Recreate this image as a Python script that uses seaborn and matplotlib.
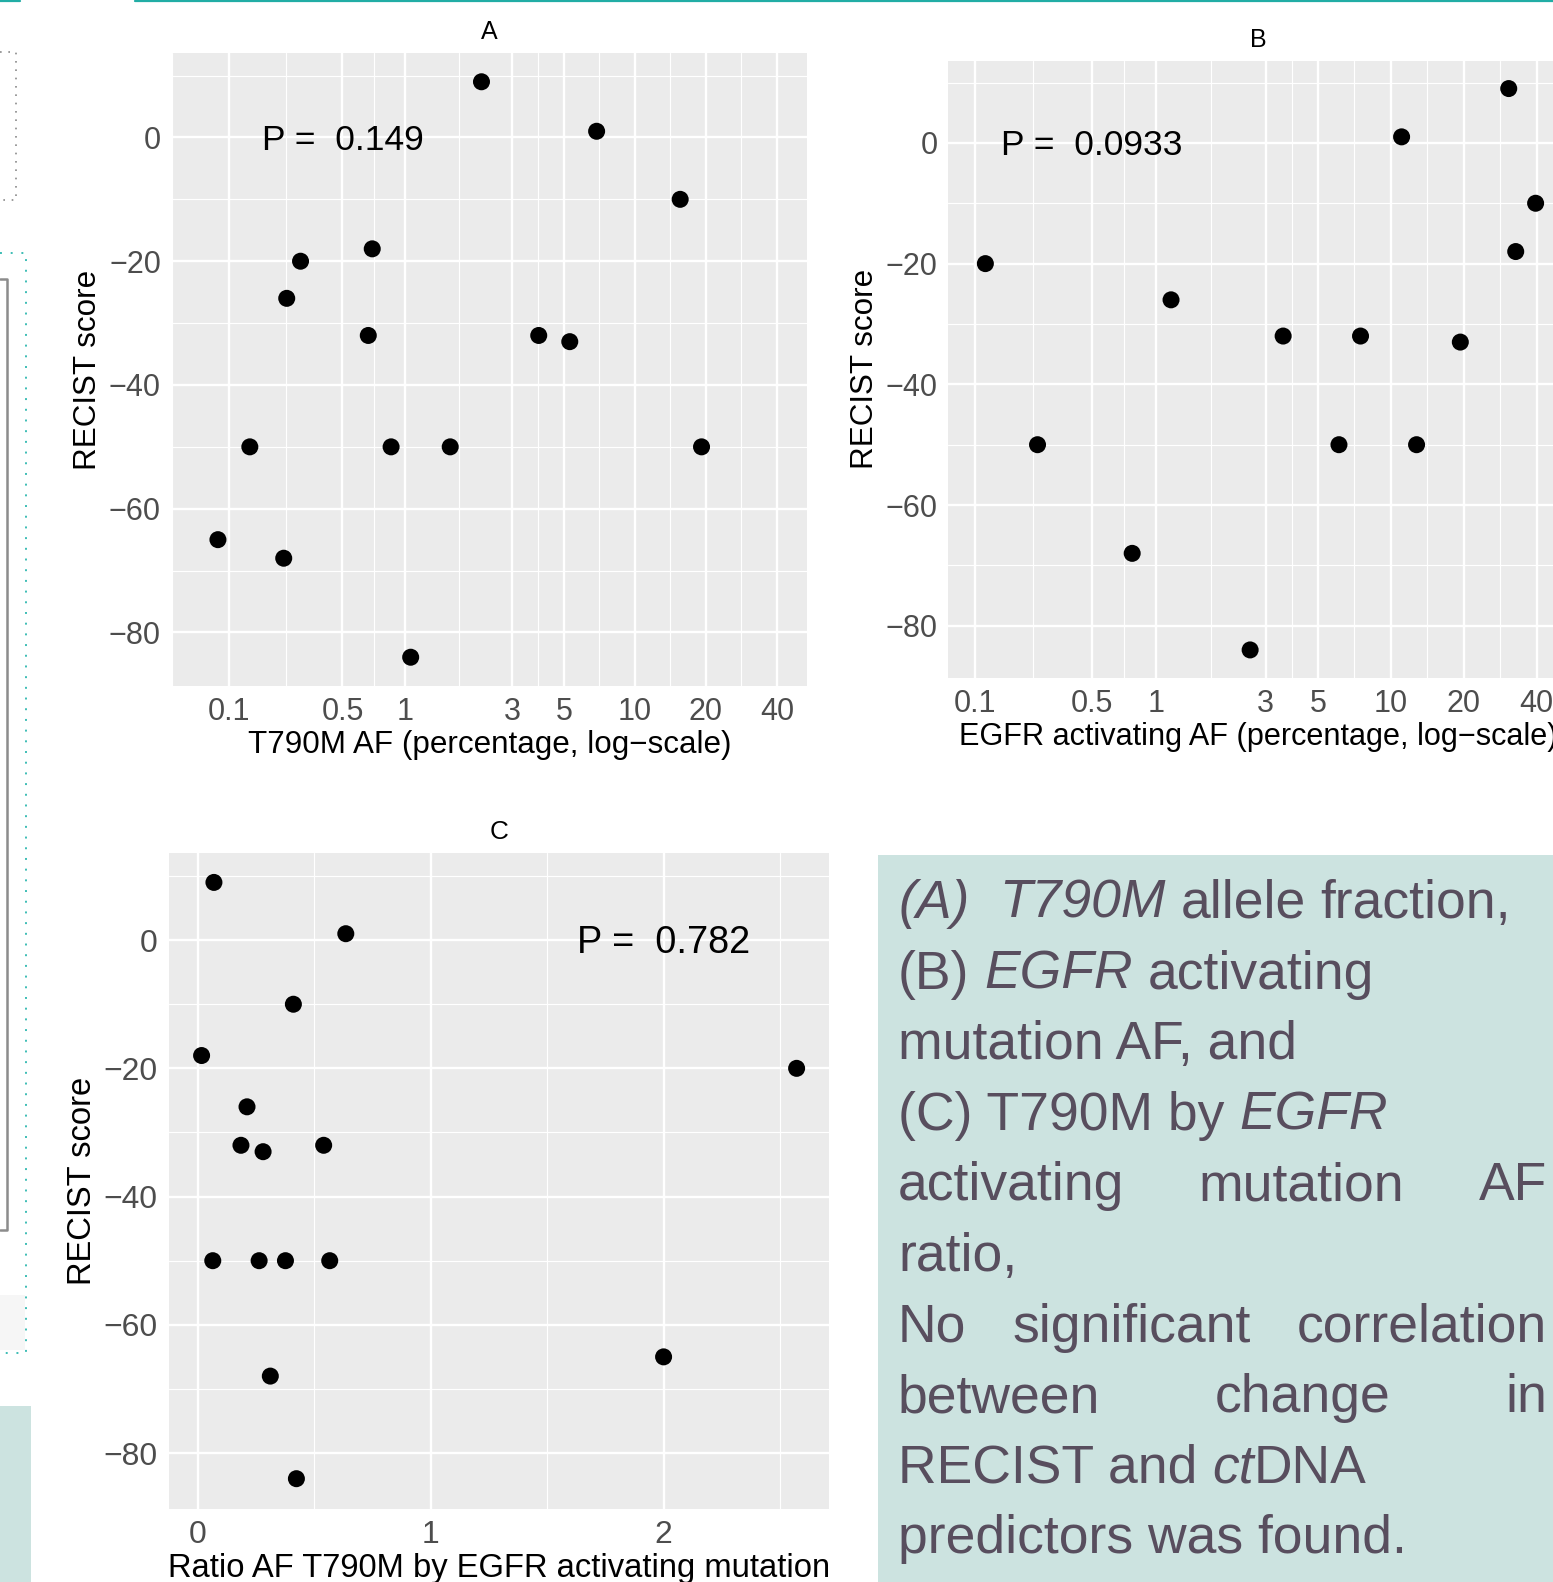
import numpy as np
import seaborn as sns
import matplotlib.pyplot as plt
from matplotlib import font_manager
from matplotlib.patches import Rectangle
from matplotlib.lines import Line2D
from matplotlib.ticker import FixedLocator, FixedFormatter

# valores
a_af = [0.08, 0.145, 0.24, 0.25, 0.30, 0.67, 0.70, 0.86, 1.06, 1.6, 2.2, 3.9, 5.3, 6.9, 15.6, 19.2]
a_recist = [-65, -50, -68, -26, -20, -32, -18, -50, -84, -50, 9, -32, -33, 1, -10, -50]

b_af = [0.12, 0.26, 0.78, 1.17, 2.58, 3.56, 6.1, 7.5, 11.1, 12.8, 19.4, 30.7, 32.8, 39.6]
b_recist = [-20, -50, -68, -26, -84, -32, -50, -32, 1, -50, -33, 9, -18, -10]

c_ratio = [0.07, 0.636, 0.411, 0.017, 2.571, 0.212, 0.186, 0.281, 0.541, 0.065, 0.264, 0.377, 0.567, 2.0, 0.312, 0.424]
c_recist = [9, 1, -10, -18, -20, -26, -32, -33, -32, -50, -50, -50, -50, -65, -68, -84]

log_breaks = [0.1, 0.5, 1, 3, 5, 10, 20, 40]
log_labels = ['0.1', '0.5', '1', '3', '5', '10', '20', '40']
ratio_breaks = [0, 1, 2]
y_breaks = [0, -20, -40, -60, -80]
p_values = ['0.149', '0.0933', '0.782']

W, H = 1553, 1582
TEAL_BG = '#CCE3E0'
TXT = '#584E5E'

sns.set_style('darkgrid', rc={'axes.facecolor': '#EBEBEB', 'grid.color': 'white'})
plt.rcParams['font.family'] = ['Liberation Sans', 'DejaVu Sans']

names = {f.name for f in font_manager.fontManager.ttflist}
narrow = 'Liberation Sans Narrow' if 'Liberation Sans Narrow' in names else 'Liberation Sans'

fig = plt.figure(figsize=(W / 100, H / 100), dpi=100)


def fwd(x):
    return np.log10(np.asarray(x, dtype=float) + 0.1)


def inv(t):
    return 10 ** np.asarray(t, dtype=float) - 0.1


def rect(l, t, r, b):
    return [l / W, 1 - b / H, (r - l) / W, (b - t) / H]


def panel(box, x, y, title, xlabel, pval, px, xlim, log, k=1.0, pk=1.0, xk=1.0):
    ax = fig.add_axes(rect(*box))
    sns.scatterplot(x=x, y=y, ax=ax, s=150, color='black', edgecolor='none', linewidth=0, zorder=3)
    if log:
        ax.set_xscale('function', functions=(fwd, inv))
        ax.xaxis.set_major_locator(FixedLocator(log_breaks))
        ax.xaxis.set_major_formatter(FixedFormatter(log_labels))
        t = fwd(log_breaks)
        step = np.diff(t)
        ext = np.concatenate([[t[0] - step[0]], t, [t[-1] + step[-1]]])
        minor = inv((ext[:-1] + ext[1:]) / 2)
    else:
        ax.xaxis.set_major_locator(FixedLocator(ratio_breaks))
        minor = [-0.5, 0.5, 1.5, 2.5, 3.5]
    ax.set_xlim(*xlim)
    ax.set_ylim(-88.65, 13.65)
    minor = [m for m in minor if xlim[0] < m < xlim[1]]
    ax.xaxis.set_minor_locator(FixedLocator(minor))
    ax.yaxis.set_major_locator(FixedLocator(y_breaks))
    ax.yaxis.set_minor_locator(FixedLocator([10, -10, -30, -50, -70]))
    ax.grid(which='major', color='white', lw=1.7)
    ax.grid(which='minor', color='white', lw=0.85)
    for s in ax.spines.values():
        s.set_visible(False)
    ax.tick_params(which='major', length=3.6 * k, width=1.4, color='#333333',
                   labelsize=22 * k, labelcolor='#4D4D4D', pad=4 * k)
    ax.tick_params(which='minor', length=0)
    ax.set_xlabel(xlabel, fontsize=22.6 * k * xk, color='black', labelpad=2.5)
    ax.set_ylabel('RECIST score', fontsize=22.6 * k, color='black', labelpad=4)
    ax.set_title(title, fontsize=18 * k, color='black', pad=10)
    ax.annotate('P =  ' + pval, xy=(px, 0), xytext=(0, -9 * pk), textcoords='offset points',
                ha='center', va='baseline', fontsize=25.5 * pk, color='black')
    return ax


panel((171.5, 53, 807, 686), a_af, a_recist, 'A',
      'T790M AF (percentage, log\u2212scale)', p_values[0], 0.5, (0.0149, 53.4), True)
panel((948, 60.5, 1568, 678), b_af, b_recist, 'B',
      'EGFR activating AF (percentage, log\u2212scale)', p_values[1], 0.5, (0.0546, 53.8), True,
      xk=0.975)
panel((168.5, 852.6, 829, 1508.5), c_ratio, c_recist, 'C',
      'Ratio AF T790M by EGFR activating mutation', p_values[2], 2, (-0.125, 2.71), False,
      k=1.045, pk=1.07)


# restos de la diapositiva
def fig_line(xs, ys, **kw):
    fig.add_artist(Line2D([v / W for v in xs], [1 - v / H for v in ys],
                          transform=fig.transFigure, **kw))


def fig_box(x0, y0, x1, y1, color):
    fig.add_artist(Rectangle((x0 / W, 1 - y1 / H), (x1 - x0) / W, (y1 - y0) / H,
                             transform=fig.transFigure, color=color, lw=0, zorder=0))


fig_line([0, 20], [1, 1], color='#21ADA5', lw=1.6)
fig_line([135, W], [1, 1], color='#21ADA5', lw=1.6)
fig_line([0, 16, 16, 0], [52, 52, 200, 200], color='#8A8A8A', lw=1.2, ls=(0, (1, 4)))
fig_line([0, 26, 26, 0], [253, 253, 1353, 1353], color='#3DBDB5', lw=1.4, ls=(0, (1, 4.5)))
fig_line([0, 7, 7, 0], [279, 279, 1230, 1230], color='#8C8C8C', lw=1.8)
fig_box(0, 1295, 25, 1350, '#F6F6F6')
fig_box(0, 1406, 31, H, TEAL_BG)
fig_box(878, 855, W, H, TEAL_BG)

# texto del recuadro
caption = [
    ([('(A)', True, 0), ('T790M', True, 2), ('allele', False, 1), ('fraction,', False, 1)], False),
    ([('(B)', False, 0), ('EGFR', True, 1), ('activating', False, 1)], False),
    ([('mutation AF, and', False, 0)], False),
    ([('(C) T790M by', False, 0), ('EGFR', True, 1)], False),
    ([('activating', False, 0), ('mutation', False, 1), ('AF', False, 1)], True),
    ([('ratio,', False, 0)], False),
    ([('No', False, 0), ('significant', False, 1), ('correlation', False, 1)], True),
    ([('between', False, 0), ('change', False, 1), ('in', False, 1)], True),
    ([('RECIST and', False, 0), ('ct', True, 1), ('DNA', False, 0)], False),
    ([('predictors was found.', False, 0)], False),
]

renderer = fig.canvas.get_renderer()
fs = 38.5
left_x, right_x = 898, 1547


def width_of(s, italic):
    t = fig.text(0, 0, s, fontsize=fs, family=narrow, style='italic' if italic else 'normal')
    w = t.get_window_extent(renderer).width
    t.remove()
    return w


space = width_of('n n', False) - width_of('nn', False)

for i, (runs, justify) in enumerate(caption):
    base = 918 + 70.6 * i
    widths = [width_of(s, it) for s, it, _ in runs]
    if justify:
        gap = (right_x - left_x - sum(widths)) / (len(runs) - 1)
    x = left_x
    for j, ((s, it, nsp), w) in enumerate(zip(runs, widths)):
        if j > 0:
            x += gap if justify else nsp * space
        fig.text(x / W, 1 - base / H, s, fontsize=fs, family=narrow,
                 style='italic' if it else 'normal', color=TXT, va='baseline', ha='left')
        x += w

fig.savefig('out.png', dpi=100, facecolor='white')
